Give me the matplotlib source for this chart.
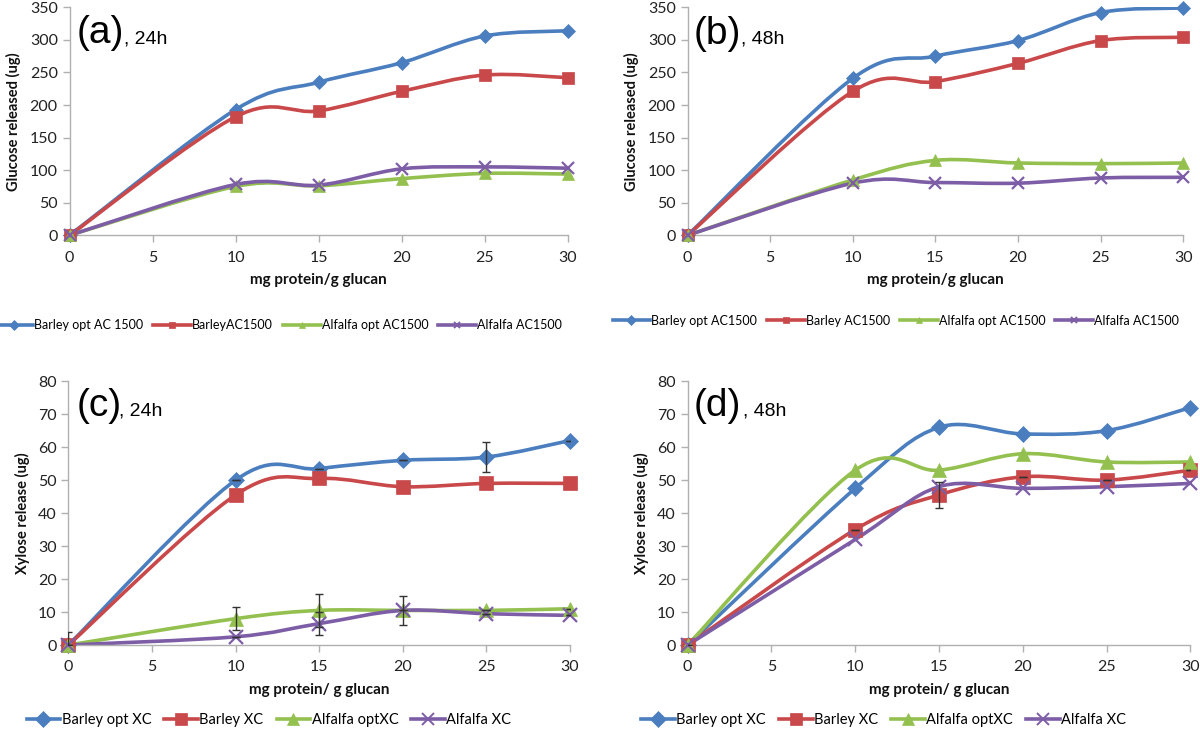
import matplotlib
matplotlib.use("Agg")
import matplotlib.pyplot as plt
import numpy as np
from matplotlib.lines import Line2D
from matplotlib.patches import PathPatch
from matplotlib.path import Path

plt.rcParams["font.family"] = ["Lato", "DejaVu Sans"]

x = [0, 10, 15, 20, 25, 30]

# (a) glucose, 24h
a_names = ["Barley opt AC 1500", "BarleyAC1500", "Alfalfa opt AC1500", "Alfalfa AC1500"]
a_barley_opt = [0, 193, 235, 265, 306, 314]
a_barley = [0, 182, 191, 221, 246, 242]
a_alfalfa_opt = [0, 75, 76, 87, 95, 94]
a_alfalfa = [0, 78, 77, 102, 105, 103]

# (b) glucose, 48h
b_names = ["Barley opt AC1500", "Barley AC1500", "Alfalfa opt AC1500", "Alfalfa AC1500"]
b_barley_opt = [0, 241, 275, 299, 342, 349]
b_barley = [0, 221, 236, 264, 299, 304]
b_alfalfa_opt = [0, 85, 115, 111, 110, 111]
b_alfalfa = [0, 80, 81, 80, 88, 89]

# (c) xylose, 24h
c_names = ["Barley opt XC", "Barley XC", "Alfalfa optXC", "Alfalfa XC"]
c_barley_opt = [0, 50, 53.5, 56, 57, 62]
c_barley = [0, 45.5, 50.5, 48, 49, 49]
c_alfalfa_opt = [0, 8, 10.5, 10.5, 10.5, 11]
c_alfalfa = [0, 2.5, 6.5, 10.5, 9.5, 9]
c_err_barley_opt = [4, 0, 0, 0, 4.5, 0]
c_err_alfalfa_opt = [0, 3.5, 5, 4.5, 0, 0]
c_err_alfalfa = [0, 0, 3.5, 0, 0, 0]

# (d) xylose, 48h
d_names = ["Barley opt XC", "Barley XC", "Alfalfa optXC", "Alfalfa XC"]
d_barley_opt = [0, 47.5, 66, 64, 65, 72]
d_barley = [0, 35, 45.5, 51, 50, 53]
d_alfalfa_opt = [0, 53, 53, 58, 55.5, 55.5]
d_alfalfa = [0, 32, 48, 47.5, 48, 49]
d_err_barley = [0, 0, 4, 0, 0, 0]

colors = ["#4a7ebf", "#c9484a", "#93c04e", "#7d5ea6"]
markers = ["D", "s", "^", "x"]


def smooth_path(xs, ys):
    # excel style smoothed line: bezier through the points
    pts = np.column_stack([xs, ys]).astype(float)
    n = len(pts)
    verts = [pts[0]]
    codes = [Path.MOVETO]
    for i in range(n - 1):
        p0 = pts[i - 1] if i > 0 else pts[i]
        p1 = pts[i]
        p2 = pts[i + 1]
        p3 = pts[i + 2] if i + 2 < n else pts[i + 1]
        verts += [p1 + (p2 - p0) / 6, p2 - (p3 - p1) / 6, p2]
        codes += [Path.CURVE4] * 3
    return Path(verts, codes)


def panel(rect, series, names, ymax, ystep, ylabel, xlabel, msize, leg_x, leg_y, leg_fs, leg_ms,
          leg_hl, leg_cs):
    ax = fig.add_axes(rect)
    for ys, c, m in zip(series, colors, markers):
        ax.add_patch(PathPatch(smooth_path(x, ys), fill=False, edgecolor=c, lw=2.6, zorder=2))
        mew = 1.6 if m == "x" else 0.5
        ax.plot(x, ys, ls="none", marker=m, color=c, ms=msize * (0.8 if m == "D" else 1),
                mec=c, mew=mew, zorder=3, clip_on=False)
    ax.set_xlim(0, 30)
    ax.set_ylim(0, ymax)
    ax.set_xticks([0, 5, 10, 15, 20, 25, 30])
    ax.set_yticks(np.arange(0, ymax + 1, ystep))
    for s in ["top", "right"]:
        ax.spines[s].set_visible(False)
    for s in ["left", "bottom"]:
        ax.spines[s].set_color("#b0b0b0")
        ax.spines[s].set_linewidth(1.0)
    ax.tick_params(axis="both", colors="#b0b0b0", labelcolor="#222222", labelsize=11.5,
                   length=5, width=1.0)
    ax.tick_params(axis="x", pad=6)
    ax.set_ylabel(ylabel, fontsize=10.5, fontweight="bold", color="#111111", labelpad=6)
    ax.set_xlabel(xlabel, fontsize=11, fontweight="bold", color="#111111", labelpad=6)
    handles = [Line2D([], [], color=c, lw=2.6, marker=m, ms=leg_ms, mew=1.4 if m == "x" else 0.5)
               for c, m in zip(colors, markers)]
    ax.legend(handles, names, loc="center", bbox_to_anchor=(leg_x, leg_y), ncol=4, frameon=False,
              fontsize=leg_fs, handlelength=leg_hl, handletextpad=0.1, columnspacing=leg_cs,
              borderaxespad=0, borderpad=0)
    return ax


fig = plt.figure(figsize=(12, 7.33), dpi=100)

ax_a = panel([0.058, 0.679, 0.415, 0.311],
             [a_barley_opt, a_barley, a_alfalfa_opt, a_alfalfa], a_names,
             350, 50, "Glucose released (ug)", "mg protein/g glucan", 9,
             0.42, -0.395, 9, 5, 3.0, 0.8)
ax_b = panel([0.573, 0.679, 0.413, 0.311],
             [b_barley_opt, b_barley, b_alfalfa_opt, b_alfalfa], b_names,
             350, 50, "Glucose released (ug)", "mg protein/g glucan", 9,
             0.42, -0.375, 9, 5, 3.0, 0.8)
ax_c = panel([0.057, 0.12, 0.418, 0.36],
             [c_barley_opt, c_barley, c_alfalfa_opt, c_alfalfa], c_names,
             80, 10, "Xylose release (ug)", "mg protein/ g glucan", 10,
             0.40, -0.285, 10.5, 8, 2.3, 0.9)
ax_d = panel([0.573, 0.12, 0.419, 0.36],
             [d_barley_opt, d_barley, d_alfalfa_opt, d_alfalfa], d_names,
             80, 10, "Xylose release (ug)", "mg protein/ g glucan", 10,
             0.39, -0.285, 10.5, 8, 2.3, 0.9)

err_kw = dict(fmt="none", ecolor="#333333", elinewidth=1.0, capsize=3, capthick=1.0, zorder=4)
ax_c.errorbar(x, c_barley_opt, yerr=c_err_barley_opt, **err_kw)
ax_c.errorbar(x, c_alfalfa_opt, yerr=c_err_alfalfa_opt, **err_kw)
ax_c.errorbar(x, c_alfalfa, yerr=c_err_alfalfa, **err_kw)
ax_d.errorbar(x, d_barley, yerr=d_err_barley, **err_kw)

labels = [("(a)", ", 24h", 77, 124, 43), ("(b)", ", 48h", 694, 741, 44),
          ("(c)", ", 24h", 77, 119, 416), ("(d)", ", 48h", 694, 743, 416)]
for big, small, x0, x1, yb in labels:
    fig.text(x0 / 1200, 1 - yb / 733, big, fontsize=28, family=["Liberation Sans", "DejaVu Sans"],
             va="baseline", ha="left")
    fig.text(x1 / 1200, 1 - yb / 733, small, fontsize=14, family=["Liberation Sans", "DejaVu Sans"],
             va="baseline", ha="left")

fig.savefig("out.png", dpi=100)
